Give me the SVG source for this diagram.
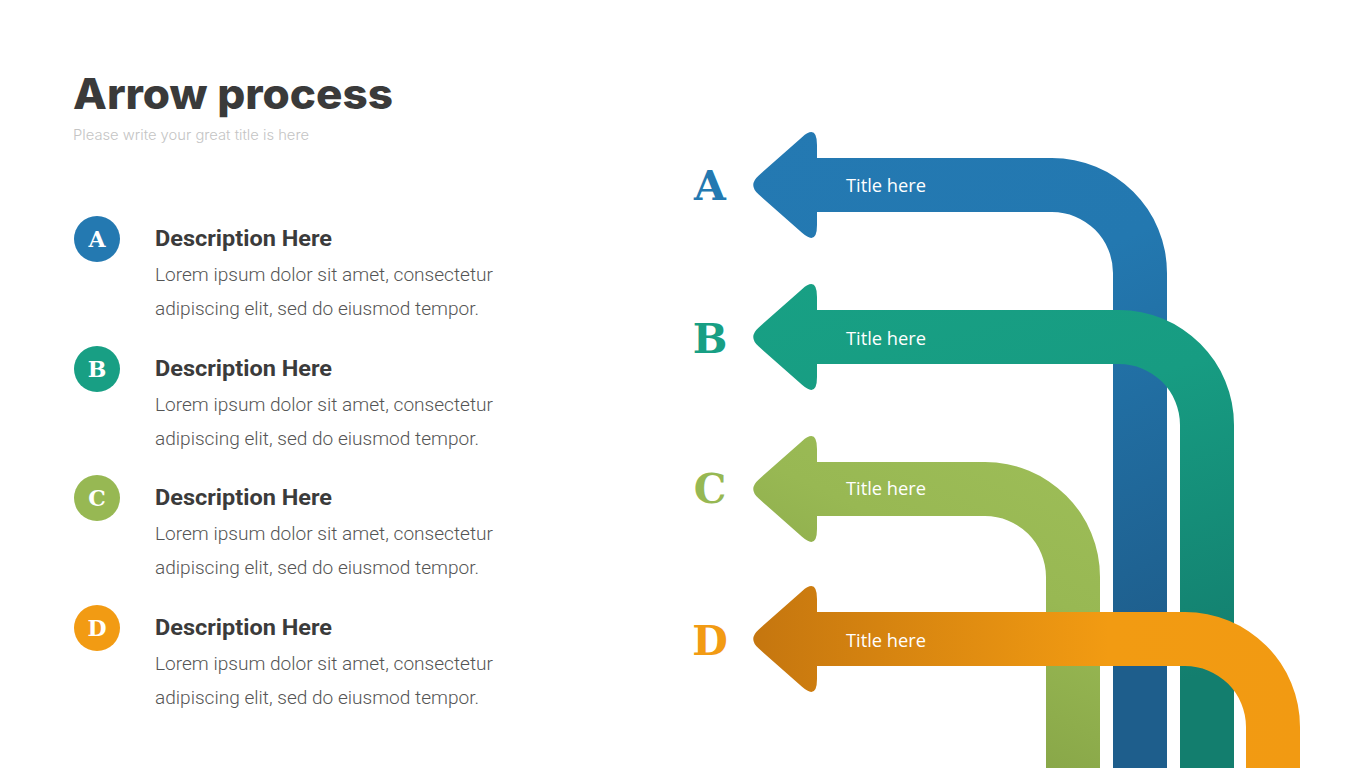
<svg xmlns="http://www.w3.org/2000/svg" width="1365" height="768" viewBox="0 0 1365 768">
<defs>
<style>
.title{font-family:Inter,"Liberation Sans",sans-serif;font-weight:800;font-size:42px;fill:#3a3a3a}
.sub{font-family:Inter,"Liberation Sans",sans-serif;font-weight:300;font-size:14px;fill:#c4c4c4}
.dh{font-family:Roboto,"Liberation Sans",sans-serif;font-weight:700;font-size:22px;fill:#3b3b3b}
.lo{font-family:Roboto,"Liberation Sans",sans-serif;font-weight:300;font-size:19px;fill:#555555}
.cl{font-family:"DejaVu Serif","Liberation Serif",serif;font-weight:700;font-size:22px;fill:#ffffff;text-anchor:middle}
.bl{font-family:"DejaVu Serif","Liberation Serif",serif;font-weight:700;font-size:41px;text-anchor:middle}
.th{font-family:"Open Sans","Liberation Sans",sans-serif;font-size:19px;fill:#ffffff}
</style>
<linearGradient id="gA" x1="0" y1="0" x2="0.3" y2="1">
<stop offset="0" stop-color="#2479b2"/><stop offset="0.4" stop-color="#2378b0"/><stop offset="1" stop-color="#1e5e8c"/>
</linearGradient>
<linearGradient id="gB" x1="0" y1="0" x2="0.3" y2="1">
<stop offset="0" stop-color="#18a084"/><stop offset="0.4" stop-color="#179c82"/><stop offset="1" stop-color="#137e6e"/>
</linearGradient>
<linearGradient id="gC" x1="1" y1="0" x2="0.5" y2="1">
<stop offset="0" stop-color="#9ebe58"/><stop offset="0.45" stop-color="#98b853"/><stop offset="1" stop-color="#84a245"/>
</linearGradient>
<linearGradient id="gD" x1="0" y1="0" x2="1" y2="0">
<stop offset="0" stop-color="#c5760f"/><stop offset="0.65" stop-color="#f29b12"/><stop offset="1" stop-color="#f29a12"/>
</linearGradient>
</defs>
<rect width="1365" height="768" fill="#ffffff"/>

<g id="header">
<text class="title" x="73" y="109" textLength="320" lengthAdjust="spacingAndGlyphs">Arrow process</text>
<text class="sub" x="73" y="140" textLength="236" lengthAdjust="spacingAndGlyphs">Please write your great title is here</text>
</g>

<g id="item-a">
<circle cx="97" cy="239" r="23" fill="#2479b1"/>
<text class="cl" x="97" y="247">A</text>
<text class="dh" x="155" y="246" textLength="177" lengthAdjust="spacingAndGlyphs">Description Here</text>
<text class="lo" x="155" y="281" textLength="338" lengthAdjust="spacingAndGlyphs">Lorem ipsum dolor sit amet, consectetur</text>
<text class="lo" x="155" y="315" textLength="324" lengthAdjust="spacingAndGlyphs">adipiscing elit, sed do eiusmod tempor.</text>
</g>
<g id="item-b">
<circle cx="97" cy="369" r="23" fill="#189f84"/>
<text class="cl" x="97" y="377">B</text>
<text class="dh" x="155" y="376" textLength="177" lengthAdjust="spacingAndGlyphs">Description Here</text>
<text class="lo" x="155" y="411" textLength="338" lengthAdjust="spacingAndGlyphs">Lorem ipsum dolor sit amet, consectetur</text>
<text class="lo" x="155" y="445" textLength="324" lengthAdjust="spacingAndGlyphs">adipiscing elit, sed do eiusmod tempor.</text>
</g>
<g id="item-c">
<circle cx="97" cy="498" r="23" fill="#97b853"/>
<text class="cl" x="97" y="506">C</text>
<text class="dh" x="155" y="505" textLength="177" lengthAdjust="spacingAndGlyphs">Description Here</text>
<text class="lo" x="155" y="540" textLength="338" lengthAdjust="spacingAndGlyphs">Lorem ipsum dolor sit amet, consectetur</text>
<text class="lo" x="155" y="574" textLength="324" lengthAdjust="spacingAndGlyphs">adipiscing elit, sed do eiusmod tempor.</text>
</g>
<g id="item-d">
<circle cx="97" cy="628" r="23" fill="#f29b13"/>
<text class="cl" x="97" y="636">D</text>
<text class="dh" x="155" y="635" textLength="177" lengthAdjust="spacingAndGlyphs">Description Here</text>
<text class="lo" x="155" y="670" textLength="338" lengthAdjust="spacingAndGlyphs">Lorem ipsum dolor sit amet, consectetur</text>
<text class="lo" x="155" y="704" textLength="324" lengthAdjust="spacingAndGlyphs">adipiscing elit, sed do eiusmod tempor.</text>
</g>

<g id="connectors">
<path id="arrow-a" fill="url(#gA)" d="M817 158 H1052 A115 115 0 0 1 1167 273 V768 H1113 V273 A61 61 0 0 0 1052 212 H817 V225 Q817 246 802 232.8 L758.5 194.3 Q748 185 758.5 175.7 L802 137.2 Q817 124 817 145 Z"/>
<path id="arrow-b" fill="url(#gB)" d="M817 310 H1119 A115 115 0 0 1 1234 425 V768 H1180 V425 A61 61 0 0 0 1119 364 H817 V377 Q817 398 802 384.8 L758.5 346.3 Q748 337 758.5 327.7 L802 289.2 Q817 276 817 297 Z"/>
<path id="arrow-c" fill="url(#gC)" d="M817 462 H985 A115 115 0 0 1 1100 577 V768 H1046 V577 A61 61 0 0 0 985 516 H817 V529 Q817 550 802 536.8 L758.5 498.3 Q748 489 758.5 479.7 L802 441.2 Q817 428 817 449 Z"/>
<path id="arrow-d" fill="url(#gD)" d="M817 612 H1185 A115 115 0 0 1 1300 727 V768 H1246 V727 A61 61 0 0 0 1185 666 H817 V679 Q817 700 802 686.8 L758.5 648.3 Q748 639 758.5 629.7 L802 591.2 Q817 578 817 599 Z"/>
</g>

<g id="node-a">
<text class="bl" x="710" y="200" fill="#2479b1">A</text>
<text class="th" x="846" y="192" textLength="80" lengthAdjust="spacingAndGlyphs">Title here</text>
</g>
<g id="node-b">
<text class="bl" x="710" y="353" fill="#189f84">B</text>
<text class="th" x="846" y="345" textLength="80" lengthAdjust="spacingAndGlyphs">Title here</text>
</g>
<g id="node-c">
<text class="bl" x="710" y="503" fill="#97b853">C</text>
<text class="th" x="846" y="495" textLength="80" lengthAdjust="spacingAndGlyphs">Title here</text>
</g>
<g id="node-d">
<text class="bl" x="710" y="655" fill="#f29b13">D</text>
<text class="th" x="846" y="647" textLength="80" lengthAdjust="spacingAndGlyphs">Title here</text>
</g>
</svg>
